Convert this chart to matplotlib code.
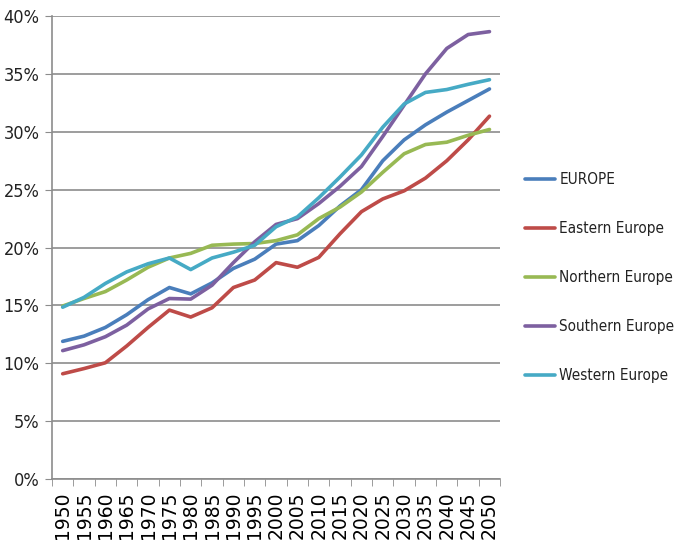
import numpy as np
import matplotlib
matplotlib.use("Agg")
import matplotlib.pyplot as plt
from matplotlib import font_manager
from matplotlib.ticker import FuncFormatter, FixedLocator

years = list(range(1950, 2051, 5))

europe = [11.9, 12.35, 13.1, 14.2, 15.5, 16.55, 16.0, 16.95, 18.2, 19.0, 20.3,
          20.6, 21.9, 23.6, 25.0, 27.5, 29.3, 30.6, 31.7, 32.7, 33.7]
eastern = [9.1, 9.55, 10.05, 11.5, 13.1, 14.6, 14.0, 14.8, 16.55, 17.2, 18.7,
           18.3, 19.15, 21.2, 23.1, 24.2, 24.9, 26.0, 27.5, 29.3, 31.35]
northern = [14.95, 15.6, 16.2, 17.2, 18.3, 19.1, 19.5, 20.2, 20.3, 20.35, 20.6,
            21.1, 22.5, 23.5, 24.8, 26.5, 28.1, 28.9, 29.1, 29.7, 30.2]
southern = [11.1, 11.6, 12.3, 13.3, 14.7, 15.6, 15.55, 16.75, 18.7, 20.5, 22.0,
            22.5, 23.8, 25.3, 27.0, 29.6, 32.3, 35.0, 37.2, 38.4, 38.65]
western = [14.85, 15.7, 16.9, 17.9, 18.6, 19.1, 18.1, 19.1, 19.6, 20.2, 21.8,
           22.65, 24.3, 26.1, 28.0, 30.4, 32.4, 33.4, 33.65, 34.1, 34.5]

names = ["EUROPE", "Eastern Europe", "Northern Europe", "Southern Europe", "Western Europe"]
colors = ["#4A7EBB", "#BE4B48", "#98B954", "#7D60A0", "#46AAC5"]

# use a condensed face if one is installed, else shrink the normal one
cond = font_manager.FontProperties(family="DejaVu Sans", stretch="condensed")
has_cond = "Condensed" in font_manager.findfont(cond)
if has_cond:
    ylab = dict(family="DejaVu Sans", stretch="condensed", size=13)
    legfont = dict(family="DejaVu Sans", stretch="condensed", size=11)
else:
    ylab = dict(family="DejaVu Sans", size=11.5)
    legfont = dict(family="DejaVu Sans", size=9.5)

fig = plt.figure(figsize=(6.79, 5.52), dpi=100)
ax = fig.add_axes([0.0766, 0.132, 0.66, 0.839])

x = np.arange(len(years))
for name, vals, c in zip(names, [europe, eastern, northern, southern, western], colors):
    ax.plot(x, np.array(vals) / 100, color=c, lw=2.6, label=name, solid_capstyle="round")

ax.set_xlim(-0.5, len(years) - 0.5)
ax.set_ylim(0, 0.40)
ax.set_yticks(np.arange(0, 0.41, 0.05))
ax.yaxis.set_major_formatter(FuncFormatter(lambda v, p: f"{v*100:.0f}%"))
ax.yaxis.grid(True, color="#8c8c8c", lw=1.2)
ax.set_axisbelow(True)

ax.set_xticks(x)
ax.set_xticklabels([str(y) for y in years], rotation=90, fontsize=13.5)
ax.xaxis.set_minor_locator(FixedLocator(np.arange(-0.5, len(years), 1)))
ax.tick_params(axis="x", which="major", length=0, pad=9)
ax.tick_params(axis="x", which="minor", length=5, color="#8c8c8c")
ax.tick_params(axis="y", length=5, color="#8c8c8c", pad=4)
for lab in ax.get_yticklabels():
    lab.set_fontproperties(font_manager.FontProperties(**ylab))
    lab.set_color("#222222")

for s in ["top", "right"]:
    ax.spines[s].set_visible(False)
for s in ["left", "bottom"]:
    ax.spines[s].set_color("#8c8c8c")
    ax.spines[s].set_linewidth(1.2)

leg = fig.legend(loc="center left", bbox_to_anchor=(0.773, 0.497), frameon=False,
                 borderpad=0, borderaxespad=0,
                 handlelength=1.95, handletextpad=0.3, labelspacing=2.22,
                 prop=font_manager.FontProperties(**legfont))
for t in leg.get_texts():
    t.set_color("#222222")

fig.savefig("out.png", dpi=100)
